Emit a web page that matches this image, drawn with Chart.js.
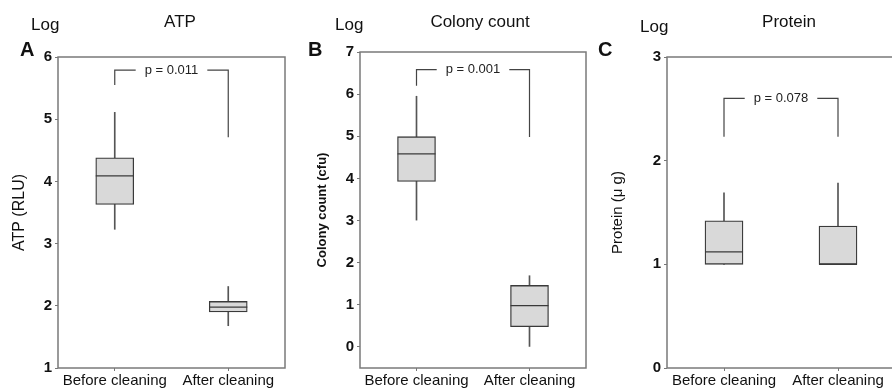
<!DOCTYPE html>
<html><head><meta charset="utf-8">
<script src="https://cdn.jsdelivr.net/npm/chart.js@4.4.0/dist/chart.umd.min.js"></script>
<style>
html,body{margin:0;padding:0;width:892px;height:390px;overflow:hidden;background:#fff;font-family:Arial,"Liberation Sans",sans-serif;}
.c{position:absolute;top:0;}
.t{position:absolute;white-space:nowrap;color:#111;line-height:1;}
.ctr{transform:translateX(-50%);}
.lbl{font-weight:bold;font-size:20px;}
.log{font-size:17px;}
.ttl{font-size:17px;}
</style></head><body>
<div class="c" style="left:0;width:290px;height:390px"><canvas id="cA" width="290" height="390"></canvas></div>
<div class="c" style="left:290px;width:300px;height:390px"><canvas id="cB" width="300" height="390"></canvas></div>
<div class="c" style="left:590px;width:310px;height:390px"><canvas id="cC" width="310" height="390"></canvas></div>

<div class="t log" style="left:31px;top:16px">Log</div>
<div class="t lbl" style="left:20px;top:39px">A</div>
<div class="t ttl ctr" style="left:180px;top:13px">ATP</div>

<div class="t log" style="left:335px;top:16px">Log</div>
<div class="t lbl" style="left:308px;top:39px">B</div>
<div class="t ttl ctr" style="left:480px;top:13px">Colony count</div>

<div class="t log" style="left:640px;top:18px">Log</div>
<div class="t lbl" style="left:598px;top:39px">C</div>
<div class="t ttl ctr" style="left:789px;top:13px">Protein</div>

<script>
// ---- data ----
const categories = ['Before cleaning', 'After cleaning'];

const atpMin = [3.23, 1.68];
const atpQ1  = [3.63, 1.90];
const atpMed = [4.09, 1.98];
const atpQ3  = [4.38, 2.07];
const atpMax = [5.11, 2.31];
const atpTicks = [1, 2, 3, 4, 5, 6];

const colMin = [3.01, 0.00];
const colQ1  = [3.93, 0.48];
const colMed = [4.58, 0.98];
const colQ3  = [4.99, 1.46];
const colMax = [5.95, 1.69];
const colTicks = [0, 1, 2, 3, 4, 5, 6, 7];

const proMin = [1.00, 1.00];
const proQ1  = [1.00, 1.00];
const proMed = [1.12, 1.00];
const proQ3  = [1.42, 1.37];
const proMax = [1.69, 1.785];
const proTicks = [0, 1, 2, 3];

const bracketLevel = [5.79, 6.58, 2.60];
const bracketLeft  = [5.55, 6.20, 2.23];
const bracketRight = [4.71, 4.98, 2.23];
const pLabels = ['p = 0.011', 'p = 0.001', 'p = 0.078'];

// ---- plugins ----
const framePlugin = {
  id: 'frame',
  afterDraw(chart) {
    const {ctx, chartArea: a} = chart;
    ctx.save();
    ctx.strokeStyle = '#7a7a7a';
    ctx.lineWidth = 1.5;
    ctx.strokeRect(a.left, a.top, a.right - a.left, a.bottom - a.top);
    ctx.restore();
  }
};

const medianPlugin = {
  id: 'median',
  afterDatasetsDraw(chart, args, opts) {
    const meta = chart.getDatasetMeta(1);
    const y = chart.scales.y;
    const ctx = chart.ctx;
    ctx.save();
    ctx.strokeStyle = '#3a3a3a';
    ctx.lineWidth = 1.3;
    meta.data.forEach((el, i) => {
      const py = y.getPixelForValue(opts.meds[i]);
      ctx.beginPath();
      ctx.moveTo(el.x - el.width / 2, py);
      ctx.lineTo(el.x + el.width / 2, py);
      ctx.stroke();
    });
    ctx.restore();
  }
};

const bracketPlugin = {
  id: 'bracket',
  afterDatasetsDraw(chart, args, o) {
    const ctx = chart.ctx, xs = chart.scales.x, ys = chart.scales.y;
    const x0 = xs.getPixelForValue(0), x1 = xs.getPixelForValue(1);
    const yb = ys.getPixelForValue(o.level);
    const yl = ys.getPixelForValue(o.left), yr = ys.getPixelForValue(o.right);
    const xm = (x0 + x1) / 2;
    ctx.save();
    ctx.font = '13px Arial, "Liberation Sans", sans-serif';
    const w = ctx.measureText(o.text).width;
    const gap = w / 2 + 9;
    ctx.strokeStyle = '#444';
    ctx.lineWidth = 1.2;
    ctx.beginPath();
    ctx.moveTo(x0, yl); ctx.lineTo(x0, yb); ctx.lineTo(xm - gap, yb);
    ctx.moveTo(xm + gap, yb); ctx.lineTo(x1, yb); ctx.lineTo(x1, yr);
    ctx.stroke();
    ctx.fillStyle = '#222';
    ctx.textAlign = 'center';
    ctx.textBaseline = 'middle';
    ctx.fillText(o.text, xm, yb);
    ctx.restore();
  }
};

const FONT = 'Arial, "Liberation Sans", sans-serif';

function boxChart(id, mins, q1s, meds, q3s, maxs, ticks, yMin, yMax, yTitle, titleFont, titlePad, axisWidth, padRight, padTop, k) {
  return new Chart(document.getElementById(id), {
    type: 'bar',
    data: {
      labels: categories,
      datasets: [
        { data: mins.map((v, i) => [v, maxs[i]]), backgroundColor: '#555', borderWidth: 0,
          barThickness: 1, grouped: false, order: 2 },
        { data: q1s.map((v, i) => [v, q3s[i]]), backgroundColor: '#d9d9d9', borderColor: '#3a3a3a',
          borderWidth: 1.3, borderSkipped: false, barThickness: 38, grouped: false, order: 1 }
      ]
    },
    options: {
      responsive: false,
      animation: false,
      layout: { padding: { left: 0, right: padRight, top: padTop, bottom: 0 } },
      plugins: {
        legend: { display: false },
        tooltip: { enabled: false },
        median: { meds: meds },
        bracket: { level: bracketLevel[k], left: bracketLeft[k], right: bracketRight[k], text: pLabels[k] }
      },
      scales: {
        x: {
          type: 'category', offset: true,
          grid: { offset: false, drawOnChartArea: false, drawTicks: true, tickLength: 3, color: '#777' },
          border: { display: false },
          ticks: { autoSkip: false, maxRotation: 0, padding: 1, color: '#111', font: { family: FONT, size: 15 } },
          afterFit: s => { s.height = 22; }
        },
        y: {
          min: yMin, max: yMax,
          afterBuildTicks: s => { s.ticks = ticks.map(v => ({ value: v })); },
          grid: { drawOnChartArea: false, drawTicks: true, tickLength: 3, color: '#777' },
          border: { display: false },
          ticks: { padding: 3, color: '#111', font: { family: FONT, size: 15, weight: 'bold' } },
          title: { display: true, text: yTitle, color: '#111', font: titleFont, padding: { top: titlePad, bottom: 0 } },
          afterFit: s => { s.width = axisWidth; }
        }
      }
    },
    plugins: [framePlugin, medianPlugin, bracketPlugin]
  });
}

boxChart('cA', atpMin, atpQ1, atpMed, atpQ3, atpMax, atpTicks, 1, 6, 'ATP (RLU)',
  { family: FONT, size: 16 }, 10, 58, 5, 57, 0);
boxChart('cB', colMin, colQ1, colMed, colQ3, colMax, colTicks, -0.5, 7, 'Colony count (cfu)',
  { family: FONT, size: 13, weight: 'bold' }, 25, 70, 4, 52, 1);
boxChart('cC', proMin, proQ1, proMed, proQ3, proMax, proTicks, 0, 3, 'Protein (\u03bc g)',
  { family: FONT, size: 15 }, 19, 77, 5, 57, 2);
</script>
</body></html>
